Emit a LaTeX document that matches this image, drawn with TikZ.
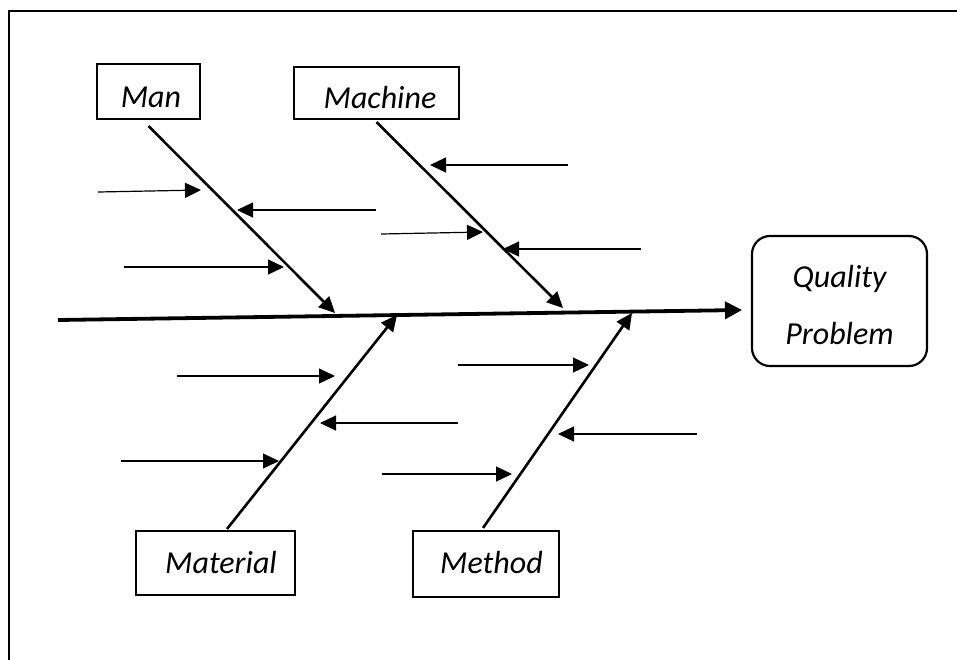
\documentclass[tikz,border=0pt]{standalone}
\usepackage{fontspec}
\setmainfont{Carlito}
\usetikzlibrary{arrows.meta}
\begin{document}
\begin{tikzpicture}[x=0.5pt,y=-0.5pt,
  tiphead/.style={-{Triangle[length=8pt,width=7.5pt]}},
  cause/.style={tiphead, line width=0.6pt},
  bone/.style={tiphead, line width=1.3pt},
  spine/.style={-{Triangle[length=8.5pt,width=8.5pt]}, line width=1.9pt},
  catbox/.style={draw, line width=1.05pt, inner sep=0pt, text depth=0pt,
    font=\itshape\fontsize{16}{19}\selectfont},
  qbox/.style={draw, line width=1.1pt, rounded corners=9pt, inner sep=0pt,
    align=center, font=\itshape\fontsize{16}{28.5}\selectfont},
  frameline/.style={line width=1.3pt}
]
\useasboundingbox (0,0) rectangle (957,659);
\draw[frameline] (9,700) -- (9,11) -- (1000,11);

% category boxes
\node[catbox, minimum width=51.5pt, minimum height=27.5pt, text height=15.5pt] (man) at (148.5,91.5) {\hspace*{2.5pt}Man};
\node[catbox, minimum width=82.5pt, minimum height=26pt, text height=15pt] (machine) at (376.5,93) {\hspace*{3.5pt}Machine};
\node[catbox, minimum width=79.5pt, minimum height=32pt, text height=10pt] (material) at (215.5,563) {\hspace*{5.5pt}Material};
\node[catbox, minimum width=73pt, minimum height=33pt, text height=9pt] (method) at (486,564) {\hspace*{5.5pt}Method};
\node[qbox, minimum width=87.5pt, minimum height=65pt] (qp) at (839.5,301) {\rule{0pt}{15pt}Quality\\Problem};

% spine
\coordinate (spineS) at (58,320);
\coordinate (spineE) at (742,310);
\draw[spine] (spineS) -- (spineE);

% bone ends on the spine
\coordinate (manE) at (335,313);
\coordinate (machE) at (563,308);
\coordinate (matE) at (397,315);
\coordinate (methE) at (632,313);

\draw[bone] ([yshift=-3pt]man.south) -- (manE);
\draw[bone] ([yshift=-1pt]machine.south) -- (machE);
\draw[bone] ([xshift=5.75pt,yshift=0.5pt]material.north) -- (matE);
\draw[bone] ([xshift=-1.5pt,yshift=1pt]method.north) -- (methE);

% cause arrows: Man
\coordinate (a1s) at (98,192);  \coordinate (a1e) at (201,190);
\coordinate (a2s) at (376,210); \coordinate (a2e) at (237,210);
\coordinate (a3s) at (124,267); \coordinate (a3e) at (284,267);
\draw[cause] (a1s) -- (a1e);
\draw[cause] (a2s) -- (a2e);
\draw[cause] (a3s) -- (a3e);

% cause arrows: Machine
\coordinate (b1s) at (568,165); \coordinate (b1e) at (430,165);
\coordinate (b2s) at (381,234); \coordinate (b2e) at (483,232);
\coordinate (b3s) at (641,249); \coordinate (b3e) at (503,249);
\draw[cause] (b1s) -- (b1e);
\draw[cause] (b2s) -- (b2e);
\draw[cause] (b3s) -- (b3e);

% cause arrows: Material
\coordinate (c1s) at (177,376); \coordinate (c1e) at (335,376);
\coordinate (c2s) at (458,423); \coordinate (c2e) at (320,423);
\coordinate (c3s) at (121,461); \coordinate (c3e) at (279,461);
\draw[cause] (c1s) -- (c1e);
\draw[cause] (c2s) -- (c2e);
\draw[cause] (c3s) -- (c3e);

% cause arrows: Method
\coordinate (d1s) at (458,365); \coordinate (d1e) at (589,365);
\coordinate (d2s) at (697,434); \coordinate (d2e) at (558,434);
\coordinate (d3s) at (382,474); \coordinate (d3e) at (512,474);
\draw[cause] (d1s) -- (d1e);
\draw[cause] (d2s) -- (d2e);
\draw[cause] (d3s) -- (d3e);
\end{tikzpicture}
\end{document}
